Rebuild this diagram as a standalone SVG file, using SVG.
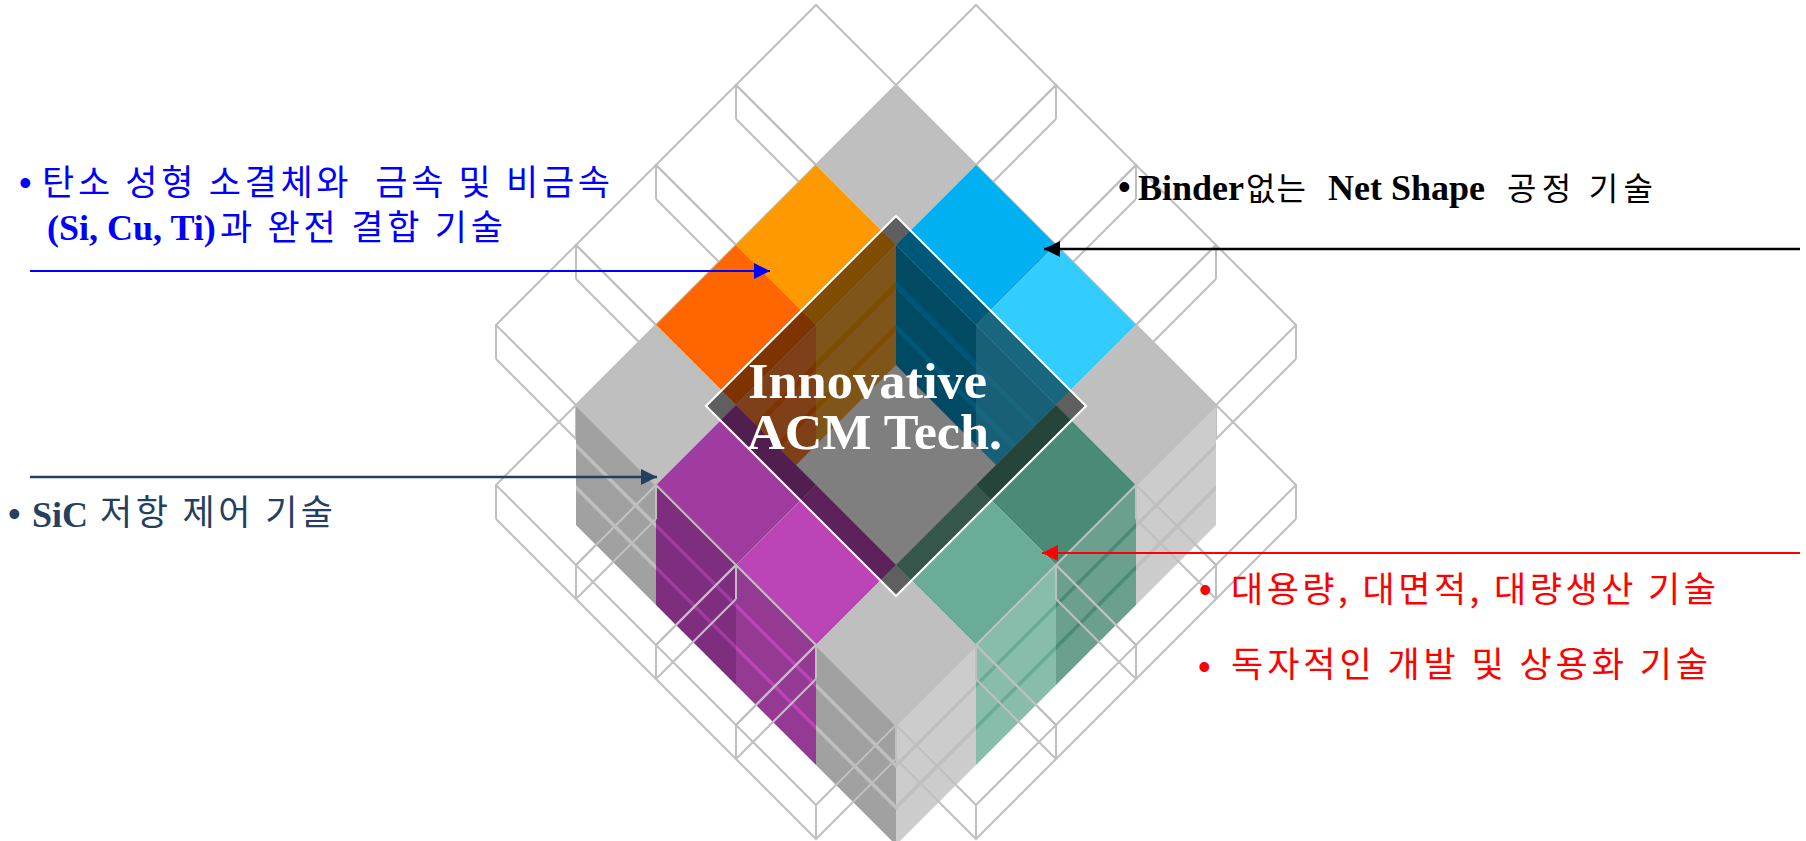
<svg xmlns="http://www.w3.org/2000/svg" width="1806" height="841" viewBox="0 0 1806 841">
<style>
.wf{fill:none;stroke:#bfbfbf;stroke-width:2;stroke-linejoin:miter}
.kr{font-family:'Noto Sans CJK KR','Noto Sans',sans-serif;font-size:35px}
.kr2{font-family:'Noto Sans CJK KR','Noto Sans',sans-serif;font-size:32px}
.lt{font-family:'Liberation Serif','Times New Roman',serif;font-weight:bold;font-size:36px}
.bul{font-family:'Liberation Sans',Arial,sans-serif;font-size:36px}
.ttl{font-family:'Liberation Serif','Times New Roman',serif;font-weight:bold;font-size:51px;fill:#ffffff}
</style>
<defs>
<clipPath id="opening"><path d="M896,245 L1056,405 L896,565 L736,405 Z"/></clipPath>
<marker id="mBlack" markerUnits="userSpaceOnUse" markerWidth="17" markerHeight="16" refX="16" refY="8" orient="auto"><path d="M0,0 L16,8 L0,16 Z" fill="#000000"/></marker>
<marker id="mBlue" markerUnits="userSpaceOnUse" markerWidth="17" markerHeight="16" refX="16" refY="8" orient="auto"><path d="M0,0 L16,8 L0,16 Z" fill="#0000ff"/></marker>
<marker id="mNavy" markerUnits="userSpaceOnUse" markerWidth="17" markerHeight="16" refX="16" refY="8" orient="auto"><path d="M0,0 L16,8 L0,16 Z" fill="#243f60"/></marker>
<marker id="mRed" markerUnits="userSpaceOnUse" markerWidth="17" markerHeight="16" refX="16" refY="8" orient="auto"><path d="M0,0 L16,8 L0,16 Z" fill="#ff0000"/></marker>
</defs>
<rect width="1806" height="841" fill="#ffffff"/>

<g id="back-wireframe">
<path class="wf" d="M736,85 L816,5 L896,85 L816,165 Z M736,85 V119 M816,165 V199 M896,85 V119 M736,119 L816,199 L896,119"/>
<path class="wf" d="M656,165 L736,85 L816,165 L736,245 Z M656,165 V199 M736,245 V279 M816,165 V199 M656,199 L736,279 L816,199"/>
<path class="wf" d="M576,245 L656,165 L736,245 L656,325 Z M576,245 V279 M656,325 V359 M736,245 V279 M576,279 L656,359 L736,279"/>
<path class="wf" d="M496,325 L576,245 L656,325 L576,405 Z M496,325 V359 M576,405 V439 M656,325 V359 M496,359 L576,439 L656,359"/>
<path class="wf" d="M896,85 L976,5 L1056,85 L976,165 Z M896,85 V119 M976,165 V199 M1056,85 V119 M896,119 L976,199 L1056,119"/>
<path class="wf" d="M976,165 L1056,85 L1136,165 L1056,245 Z M976,165 V199 M1056,245 V279 M1136,165 V199 M976,199 L1056,279 L1136,199"/>
<path class="wf" d="M1056,245 L1136,165 L1216,245 L1136,325 Z M1056,245 V279 M1136,325 V359 M1216,245 V279 M1056,279 L1136,359 L1216,279"/>
<path class="wf" d="M1136,325 L1216,245 L1296,325 L1216,405 Z M1136,325 V359 M1216,405 V439 M1296,325 V359 M1136,359 L1216,439 L1296,359"/>
</g>

<g id="stack-sides">
<path d="M576,405 L656,485 L656,605 L576,525 Z" fill="#a0a0a0"/>
<path d="M576,443 L656,523 L656,528 L576,448 Z M576,485 L656,565 L656,570 L576,490 Z" fill="#bfbfbf"/>
<path d="M656,485 L736,565 L736,685 L656,605 Z" fill="#7f2d7f"/>
<path d="M656,523 L736,603 L736,608 L656,528 Z M656,565 L736,645 L736,650 L656,570 Z" fill="#a03c9f"/>
<path d="M736,565 L816,645 L816,765 L736,685 Z" fill="#953a93"/>
<path d="M736,603 L816,683 L816,688 L736,608 Z M736,645 L816,725 L816,730 L736,650 Z" fill="#bb45b7"/>
<path d="M816,645 L896,725 L896,845 L816,765 Z" fill="#a0a0a0"/>
<path d="M816,683 L896,763 L896,768 L816,688 Z M816,725 L896,805 L896,810 L816,730 Z" fill="#bfbfbf"/>
<path d="M1136,485 L1216,405 L1216,525 L1136,605 Z" fill="#cccccc"/>
<path d="M1136,523 L1216,443 L1216,448 L1136,528 Z M1136,565 L1216,485 L1216,490 L1136,570 Z" fill="#bfbfbf"/>
<path d="M1056,565 L1136,485 L1136,605 L1056,685 Z" fill="#6ba08f"/>
<path d="M1056,603 L1136,523 L1136,528 L1056,608 Z M1056,645 L1136,565 L1136,570 L1056,650 Z" fill="#4b8a76"/>
<path d="M976,645 L1056,565 L1056,685 L976,765 Z" fill="#88bcab"/>
<path d="M976,683 L1056,603 L1056,608 L976,688 Z M976,725 L1056,645 L1056,650 L976,730 Z" fill="#6aac97"/>
<path d="M896,725 L976,645 L976,765 L896,845 Z" fill="#cccccc"/>
<path d="M896,763 L976,683 L976,688 L896,768 Z M896,805 L976,725 L976,730 L896,810 Z" fill="#bfbfbf"/>
</g>

<g id="pit" clip-path="url(#opening)">
<path d="M896,245 L1056,405 L896,565 L736,405 Z" fill="#ffffff"/>
<path d="M816,325 L896,245 L896,365 L816,445 Z" fill="#ffab33"/>
<path d="M816,362 L896,282 L896,289 L816,369 Z M816,404 L896,324 L896,331 L816,411 Z" fill="#ff9900"/>
<path d="M736,405 L816,325 L816,445 L736,525 Z" fill="#ff7f33"/>
<path d="M736,442 L816,362 L816,369 L736,449 Z M736,484 L816,404 L816,411 L736,491 Z" fill="#ff6600"/>
<path d="M896,245 L976,325 L976,445 L896,365 Z" fill="#0094c8"/>
<path d="M896,282 L976,362 L976,369 L896,289 Z M896,324 L976,404 L976,411 L896,331 Z" fill="#00b0f0"/>
<path d="M976,325 L1056,405 L1056,525 L976,445 Z" fill="#2ec0f0"/>
<path d="M976,362 L1056,442 L1056,449 L976,369 Z M976,404 L1056,484 L1056,491 L976,411 Z" fill="#33ccff"/>
</g>

<g id="stack-tops">
<path d="M896,85 L976,165 L896,245 L816,165 Z" fill="#bfbfbf"/>
<path d="M976,165 L1056,245 L976,325 L896,245 Z" fill="#00b0f0"/>
<path d="M816,165 L896,245 L816,325 L736,245 Z" fill="#ff9900"/>
<path d="M1056,245 L1136,325 L1056,405 L976,325 Z" fill="#33ccff"/>
<path d="M736,245 L816,325 L736,405 L656,325 Z" fill="#ff6600"/>
<path d="M1136,325 L1216,405 L1136,485 L1056,405 Z" fill="#bfbfbf"/>
<path d="M656,325 L736,405 L656,485 L576,405 Z" fill="#bfbfbf"/>
<path d="M1056,405 L1136,485 L1056,565 L976,485 Z" fill="#4b8a76"/>
<path d="M736,405 L816,485 L736,565 L656,485 Z" fill="#a03c9f"/>
<path d="M976,485 L1056,565 L976,645 L896,565 Z" fill="#6aac97"/>
<path d="M816,485 L896,565 L816,645 L736,565 Z" fill="#bb45b7"/>
<path d="M896,565 L976,645 L896,725 L816,645 Z" fill="#bfbfbf"/>
</g>

<g id="window">
<path d="M896,216 L1086,406 L896,596 L706,406 Z" fill="#000000" fill-opacity="0.5" stroke="#ffffff" stroke-width="2"/>
</g>

<g id="front-wireframe">
<path class="wf" d="M1136,485 L1216,405 L1296,485 L1216,565 Z M1136,485 V519 M1216,565 V599 M1296,485 V519 M1136,519 L1216,599 L1296,519"/>
<path class="wf" d="M1056,565 L1136,485 L1216,565 L1136,645 Z M1056,565 V599 M1136,645 V679 M1216,565 V599 M1056,599 L1136,679 L1216,599"/>
<path class="wf" d="M976,645 L1056,565 L1136,645 L1056,725 Z M976,645 V679 M1056,725 V759 M1136,645 V679 M976,679 L1056,759 L1136,679"/>
<path class="wf" d="M896,725 L976,645 L1056,725 L976,805 Z M896,725 V759 M976,805 V839 M1056,725 V759 M896,759 L976,839 L1056,759"/>
<path class="wf" d="M496,485 L576,405 L656,485 L576,565 Z M496,485 V519 M576,565 V599 M656,485 V519 M496,519 L576,599 L656,519"/>
<path class="wf" d="M576,565 L656,485 L736,565 L656,645 Z M576,565 V599 M656,645 V679 M736,565 V599 M576,599 L656,679 L736,599"/>
<path class="wf" d="M656,645 L736,565 L816,645 L736,725 Z M656,645 V679 M736,725 V759 M816,645 V679 M656,679 L736,759 L816,679"/>
<path class="wf" d="M736,725 L816,645 L896,725 L816,805 Z M736,725 V759 M816,805 V839 M896,725 V759 M736,759 L816,839 L896,759"/>
</g>

<g id="center-title">
<text class="ttl" x="748" y="398" textLength="239" lengthAdjust="spacingAndGlyphs">Innovative</text>
<text class="ttl" x="747" y="449" textLength="255" lengthAdjust="spacingAndGlyphs">ACM Tech.</text>
</g>

<g id="connectors">
<line x1="30" y1="271" x2="770" y2="271" stroke="#0000ff" stroke-width="2" marker-end="url(#mBlue)"/>
<line x1="1800" y1="249" x2="1044" y2="249" stroke="#000000" stroke-width="2.3" marker-end="url(#mBlack)"/>
<line x1="30" y1="477" x2="657" y2="477" stroke="#243f60" stroke-width="2.3" marker-end="url(#mNavy)"/>
<line x1="1800" y1="553" x2="1042" y2="553" stroke="#ff0000" stroke-width="2" marker-end="url(#mRed)"/>
</g>

<g id="label-carbon">
<text class="bul" x="19" y="195" fill="#0000ff">•</text>
<text class="kr" x="42" y="195" fill="#0000ff" textLength="568" lengthAdjust="spacing">탄소 성형 소결체와&#160; 금속 및 비금속</text>
<text class="lt" x="47" y="240" fill="#0000ff">(Si, Cu, Ti)</text>
<text class="kr" x="220" y="240" fill="#0000ff" textLength="283" lengthAdjust="spacing">과 완전 결합 기술</text>
</g>

<g id="label-binder">
<text class="bul" x="1118" y="199" fill="#000000">•</text>
<text class="lt" x="1138" y="200" fill="#000000">Binder</text>
<text class="kr2" x="1246" y="200" fill="#000000" textLength="60" lengthAdjust="spacing">없는</text>
<text class="lt" x="1328" y="200" fill="#000000">Net Shape</text>
<text class="kr2" x="1507" y="200" fill="#000000" textLength="146" lengthAdjust="spacing">공정 기술</text>
</g>

<g id="label-sic">
<text class="bul" x="8" y="526" fill="#243f60">•</text>
<text class="lt" x="32" y="527" fill="#243f60">SiC</text>
<text class="kr" x="100" y="525" fill="#243f60" textLength="233" lengthAdjust="spacing">저항 제어 기술</text>
</g>

<g id="label-mass">
<text class="bul" x="1199" y="602" fill="#ff0000">•</text>
<text class="kr" x="1231" y="602" fill="#ff0000" textLength="485" lengthAdjust="spacing">대용량, 대면적, 대량생산 기술</text>
<text class="bul" x="1198" y="679" fill="#ff0000">•</text>
<text class="kr" x="1231" y="677" fill="#ff0000" textLength="477" lengthAdjust="spacing">독자적인 개발 및 상용화 기술</text>
</g>
</svg>
